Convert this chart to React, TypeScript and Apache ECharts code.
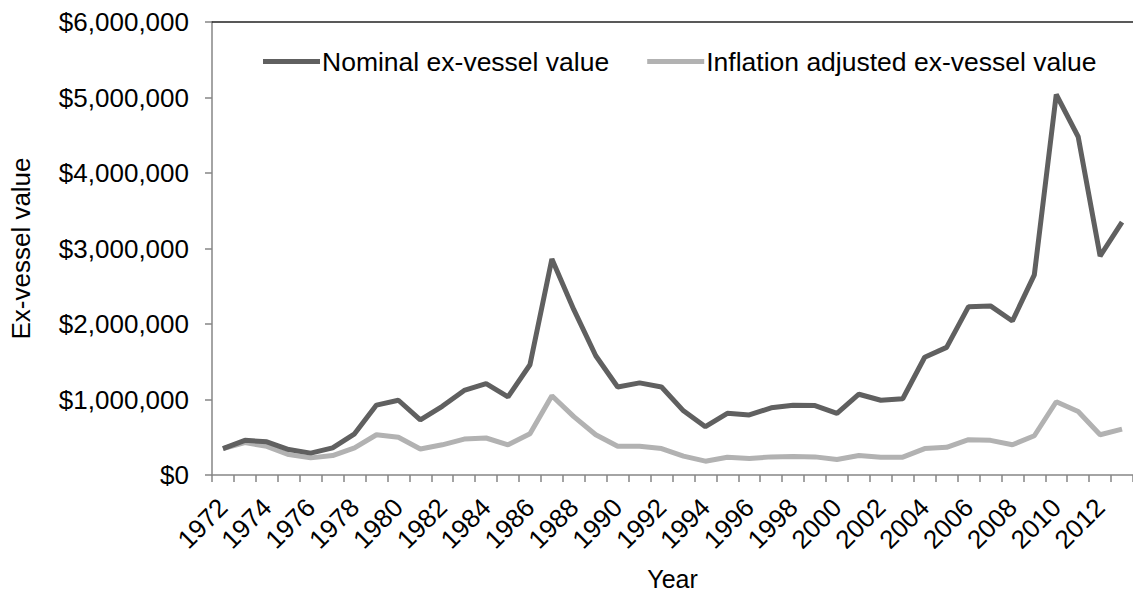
import React, { useEffect, useRef } from "react";
import * as echarts from "echarts";

const years: string[] = [];
for (let y = 1972; y <= 2013; y++) years.push(String(y));

const nominal = [
  350000, 459000, 440000, 337000, 290000, 360000, 546000, 926000, 990000, 730000,
  910000, 1120000, 1210000, 1035000, 1460000, 2860000, 2190000, 1580000, 1165000, 1220000,
  1165000, 850000, 640000, 817000, 795000, 890000, 925000, 920000, 817000, 1070000,
  990000, 1010000, 1560000, 1690000, 2230000, 2240000, 2040000, 2650000, 5040000, 4480000,
  2900000, 3350000,
];

const adjusted = [
  350000, 430000, 380000, 270000, 227000, 258000, 360000, 533000, 500000, 345000,
  400000, 476000, 490000, 400000, 546000, 1050000, 773000, 533000, 380000, 380000,
  350000, 250000, 183000, 236000, 218000, 240000, 245000, 240000, 205000, 258000,
  236000, 236000, 350000, 367000, 468000, 459000, 400000, 520000, 970000, 840000,
  533000, 607000,
];

const seriesNames = ["Nominal ex-vessel value", "Inflation adjusted ex-vessel value"];
const yTicks = [0, 1000000, 2000000, 3000000, 4000000, 5000000, 6000000];

const FONT = "'Liberation Sans', Arial, sans-serif";

export default function App() {
  const ref = useRef<HTMLDivElement>(null);
  useEffect(() => {
    if (!ref.current) return;
    const chart = echarts.init(ref.current, null, { renderer: "svg" });
    chart.setOption({
      animation: false,
      backgroundColor: "#ffffff",
      textStyle: { fontFamily: FONT },
      grid: { left: 209, right: -9, top: 22, bottom: 117, containLabel: false },
      legend: {
        top: 43,
        left: 258,
        itemWidth: 57,
        itemHeight: 5,
        itemGap: 38,
        icon: "rect",
        textStyle: { fontSize: 26.5, color: "#000", fontFamily: FONT, padding: [0, 0, 0, -3] },
        data: seriesNames.map((n) => ({ name: n, icon: "rect" })),
      },
      xAxis: [
        {
          type: "category",
          data: years,
          boundaryGap: true,
          name: "Year",
          nameLocation: "middle",
          nameGap: 91,
          nameTextStyle: { fontSize: 25, color: "#000", fontFamily: FONT },
          axisLine: { lineStyle: { color: "#868686", width: 1.5 } },
          axisTick: { show: true, interval: 0, length: 7, lineStyle: { color: "#868686", width: 1.5 } },
          axisLabel: {
            interval: 1,
            rotate: 45,
            margin: 28,
            fontSize: 26,
            color: "#000",
            fontFamily: FONT,
          },
          splitLine: { show: false },
        },
        {
          type: "category",
          data: years,
          position: "top",
          axisLine: { show: true, lineStyle: { color: "#222", width: 1.5 } },
          axisTick: { show: false },
          axisLabel: { show: false },
        },
      ],
      yAxis: {
        type: "value",
        min: 0,
        max: 6000000,
        interval: 1000000,
        name: "Ex-vessel value",
        nameLocation: "middle",
        nameGap: 178,
        nameTextStyle: { fontSize: 26, color: "#000", fontFamily: FONT },
        axisLine: { show: true, lineStyle: { color: "#868686", width: 1.5 } },
        axisTick: { show: true, length: 7, lineStyle: { color: "#868686", width: 1.5 } },
        axisLabel: {
          margin: 23,
          fontSize: 26,
          color: "#000",
          fontFamily: FONT,
          formatter: (v: number) =>
            yTicks.includes(v) ? "$" + v.toLocaleString("en-US") : "",
        },
        splitLine: { show: false },
      },
      series: [
        {
          name: seriesNames[0],
          type: "line",
          data: nominal,
          symbol: "none",
          lineStyle: { color: "#606060", width: 5 },
          itemStyle: { color: "#606060" },
          z: 3,
        },
        {
          name: seriesNames[1],
          type: "line",
          data: adjusted,
          symbol: "none",
          lineStyle: { color: "#b2b2b2", width: 5 },
          itemStyle: { color: "#b2b2b2" },
          z: 2,
        },
      ],
    });
    return () => chart.dispose();
  }, []);
  return (
    <div
      ref={ref}
      style={{ position: "fixed", left: 0, top: 0, width: 1133, height: 596, background: "#fff" }}
    />
  );
}
